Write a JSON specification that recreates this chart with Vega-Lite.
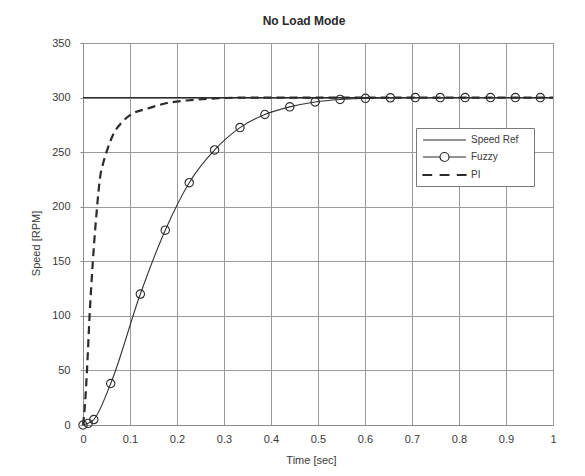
{
  "$schema": "https://vega.github.io/schema/vega-lite/v6.json",
  "width": 470,
  "height": 382,
  "autosize": {"type": "none"},
  "padding": {"left": 83, "top": 43, "right": 32, "bottom": 51},
  "background": "white",
  "config": {
    "font": "Liberation Sans",
    "view": {"stroke": "#8c8c8c", "strokeWidth": 1},
    "axis": {
      "gridColor": "#9a9a9a", "gridWidth": 1, "gridOpacity": 1,
      "domainColor": "#8c8c8c", "tickColor": "#8c8c8c",
      "labelFont": "Liberation Sans", "labelFontSize": 11, "labelColor": "#3a3a3a",
      "titleFont": "Liberation Sans", "titleFontSize": 11, "titleFontWeight": "normal", "titleColor": "#3a3a3a"
    }
  },
  "title": {
    "text": "No Load Mode",
    "font": "Liberation Sans",
    "fontSize": 12,
    "fontWeight": "bold",
    "color": "#2a2a2a",
    "offset": 9,
    "dx": -14
  },
  "data": {
    "values": [
      {"series": "Speed Ref", "t": 0, "speed": 300},
      {"series": "Speed Ref", "t": 1, "speed": 300},
      {"series": "Fuzzy", "t": 0, "speed": 0},
      {"series": "Fuzzy", "t": 0.011, "speed": 1.5},
      {"series": "Fuzzy", "t": 0.023, "speed": 5},
      {"series": "Fuzzy", "t": 0.059, "speed": 38},
      {"series": "Fuzzy", "t": 0.122, "speed": 120},
      {"series": "Fuzzy", "t": 0.175, "speed": 178.5},
      {"series": "Fuzzy", "t": 0.226, "speed": 222},
      {"series": "Fuzzy", "t": 0.28, "speed": 252},
      {"series": "Fuzzy", "t": 0.334, "speed": 272.5},
      {"series": "Fuzzy", "t": 0.387, "speed": 284.5},
      {"series": "Fuzzy", "t": 0.44, "speed": 291.5},
      {"series": "Fuzzy", "t": 0.494, "speed": 296},
      {"series": "Fuzzy", "t": 0.547, "speed": 298.3},
      {"series": "Fuzzy", "t": 0.601, "speed": 299.3},
      {"series": "Fuzzy", "t": 0.654, "speed": 299.8},
      {"series": "Fuzzy", "t": 0.707, "speed": 300},
      {"series": "Fuzzy", "t": 0.76, "speed": 300},
      {"series": "Fuzzy", "t": 0.813, "speed": 300},
      {"series": "Fuzzy", "t": 0.867, "speed": 300},
      {"series": "Fuzzy", "t": 0.92, "speed": 300},
      {"series": "Fuzzy", "t": 0.973, "speed": 300},
      {"series": "PI", "t": 0, "speed": 0},
      {"series": "PI", "t": 0.003, "speed": 12},
      {"series": "PI", "t": 0.0085, "speed": 50},
      {"series": "PI", "t": 0.014, "speed": 100},
      {"series": "PI", "t": 0.021, "speed": 150},
      {"series": "PI", "t": 0.03, "speed": 200},
      {"series": "PI", "t": 0.036, "speed": 226},
      {"series": "PI", "t": 0.043, "speed": 240},
      {"series": "PI", "t": 0.05, "speed": 250},
      {"series": "PI", "t": 0.064, "speed": 266},
      {"series": "PI", "t": 0.082, "speed": 277},
      {"series": "PI", "t": 0.104, "speed": 285},
      {"series": "PI", "t": 0.138, "speed": 290},
      {"series": "PI", "t": 0.179, "speed": 295},
      {"series": "PI", "t": 0.221, "speed": 297.3},
      {"series": "PI", "t": 0.264, "speed": 298.8},
      {"series": "PI", "t": 0.35, "speed": 300},
      {"series": "PI", "t": 0.5, "speed": 300},
      {"series": "PI", "t": 0.75, "speed": 300},
      {"series": "PI", "t": 1, "speed": 300}
    ]
  },
  "encoding": {
    "x": {
      "field": "t", "type": "quantitative",
      "scale": {"domain": [0, 1], "nice": false},
      "axis": {
        "title": "Time [sec]",
        "values": [0, 0.1, 0.2, 0.3, 0.4, 0.5, 0.6, 0.7, 0.8, 0.9, 1],
        "format": "~g",
        "ticks": false, "tickSize": 0,
        "labelPadding": 8,
        "titlePadding": 10,
        "titleX": 228,
        "labelFlush": false
      }
    },
    "y": {
      "field": "speed", "type": "quantitative",
      "scale": {"domain": [0, 350], "nice": false},
      "axis": {
        "title": "Speed [RPM]",
        "values": [0, 50, 100, 150, 200, 250, 300, 350],
        "tickSize": 3,
        "labelPadding": 10,
        "titlePadding": 10,
        "titleY": 200,
        "labelFlush": false
      }
    }
  },
  "layer": [
    {
      "transform": [{"filter": "datum.series === 'Speed Ref'"}],
      "mark": {"type": "line", "color": "#2b2b2b", "strokeWidth": 1.3}
    },
    {
      "transform": [{"filter": "datum.series === 'Fuzzy'"}],
      "mark": {"type": "line", "interpolate": "monotone", "color": "#333333", "strokeWidth": 1.1}
    },
    {
      "transform": [{"filter": "datum.series === 'PI'"}],
      "mark": {"type": "line", "interpolate": "monotone", "color": "#2b2b2b", "strokeWidth": 2.2, "strokeDash": [8, 5]}
    },
    {
      "transform": [{"filter": "datum.series === 'Fuzzy'"}],
      "mark": {"type": "point", "shape": "circle", "filled": false, "size": 70, "stroke": "#2b2b2b", "strokeWidth": 1.1, "opacity": 1}
    },
    {
      "transform": [{"filter": "false"}],
      "mark": {"type": "point", "filled": false, "color": "#2b2b2b", "strokeWidth": 1.2, "opacity": 1},
      "encoding": {
        "shape": {
          "field": "series", "type": "nominal",
          "scale": {
            "domain": ["Speed Ref", "Fuzzy", "PI"],
            "range": [
              "M-1,0H7.6",
              "M-1,0H2.4M4.2,0H7.6M4.2,0A0.9,0.9,0,1,1,2.4,0A0.9,0.9,0,1,1,4.2,0",
              "M-1,-0.1H0.72V0.1H-1ZM2.44,-0.1H4.16V0.1H2.44ZM5.88,-0.1H7.6V0.1H5.88Z"
            ]
          },
          "legend": {
            "title": " ",
            "titleOrient": "right",
            "titlePadding": 10,
            "titleFontSize": 10,
            "orient": "none",
            "legendX": 333,
            "legendY": 85,
            "fillColor": "white",
            "strokeColor": "#7a7a7a",
            "padding": 6,
            "labelFont": "Liberation Sans",
            "labelFontSize": 10,
            "labelColor": "#3a3a3a",
            "symbolSize": 100,
            "symbolStrokeColor": "#2b2b2b",
            "symbolFillColor": "transparent",
            "symbolStrokeWidth": 1.2,
            "symbolOpacity": 1,
            "labelOffset": 37,
            "rowPadding": 5
          }
        }
      }
    }
  ]
}
